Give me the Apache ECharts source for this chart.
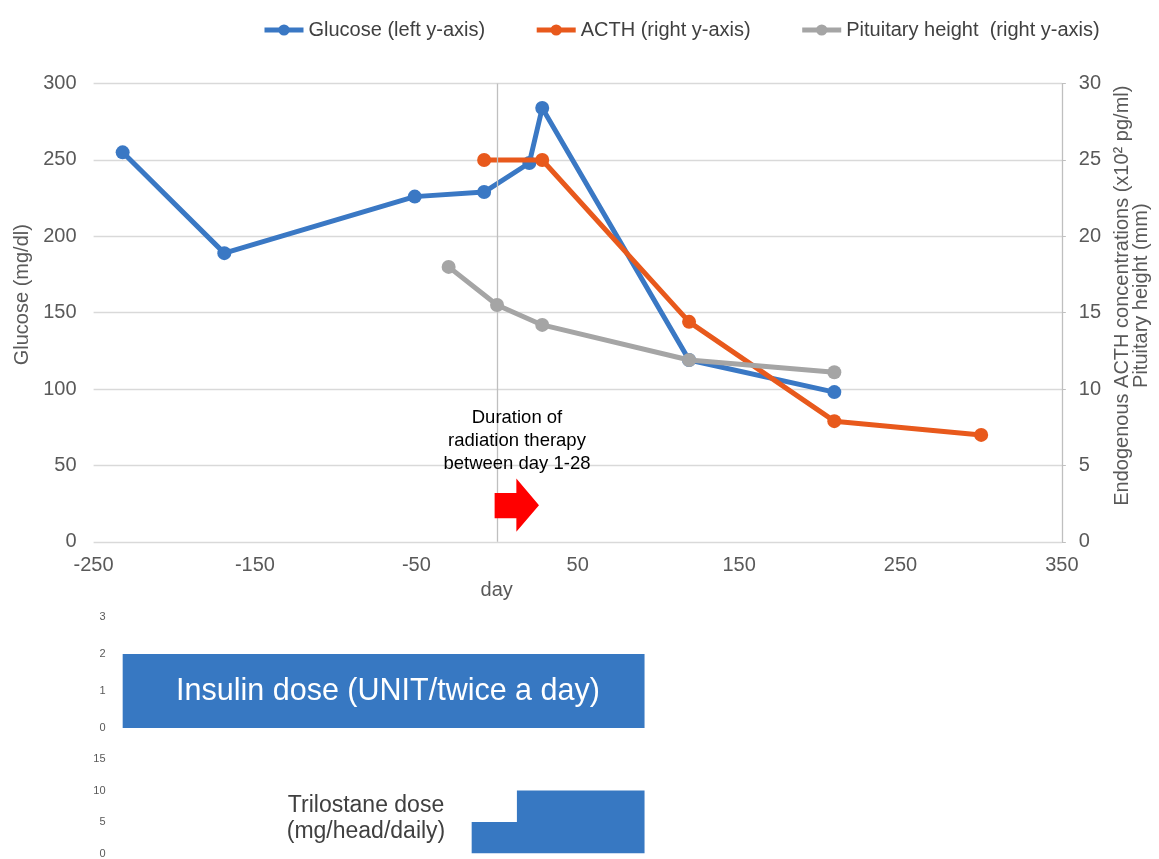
<!DOCTYPE html>
<html>
<head>
<meta charset="utf-8">
<script src="https://cdn.jsdelivr.net/npm/echarts@6/dist/echarts.min.js"></script>
<style>
html,body{margin:0;padding:0;background:#fff;}
#chart{width:1159px;height:859px;}
</style>
</head>
<body>
<div id="chart"></div>
<script>
// ---- data ----
const xTicks = [-250, -150, -50, 50, 150, 250, 350];
const glucoseDays = [-232, -169, -51, -8, 20, 28, 119, 209];
const glucose = [255, 189, 226, 229, 248, 284, 119, 98];
const acthDays = [-8, 28, 119, 209, 300];
const acth = [25, 25, 14.4, 7.9, 7];
const pituitaryDays = [-30, 0, 28, 119, 209];
const pituitary = [18, 15.5, 14.2, 11.9, 11.1];
const insulinDays = [-232, 91];
const insulinDose = [2, 2];
const trilostaneDays = [-16, 12, 91];
const trilostaneDose = [5, 10, 10];
const radiationArrow = [-1.5, 26]; // drawn arrow extent (days)
const seriesNames = ['Glucose (left y-axis)', 'ACTH (right y-axis)', 'Pituitary height  (right y-axis)'];

const zip = (xs, ys) => xs.map((x, i) => [x, ys[i]]);
const FONT = 'Liberation Sans, Arial, sans-serif';
const AXC = '#595959';
const BLUE = '#3A78C4', ORANGE = '#E8591C', GRAY = '#A5A5A5', BAR = '#3778C2';

const chart = echarts.init(document.getElementById('chart'), null, {renderer: 'canvas'});
const xBase = {type: 'value', min: xTicks[0], max: xTicks[xTicks.length - 1], interval: 100};

const option = {
  animation: false,
  textStyle: {fontFamily: FONT},
  legend: {
    data: seriesNames,
    left: 257, top: 15,
    itemWidth: 39, itemHeight: 14, itemGap: 49,
    lineStyle: {width: 5},
    textStyle: {fontSize: 20, color: '#404040', fontFamily: FONT}
  },
  grid: [
    {left: 93.6, right: 96, top: 83.6, height: 458.2},
    {left: 93.6, right: 96, top: 617, height: 111},
    {left: 93.6, right: 96, top: 759, height: 97.5}
  ],
  xAxis: [
    Object.assign({}, xBase, {
      gridIndex: 0,
      name: 'day', nameLocation: 'middle', nameGap: 15,
      nameTextStyle: {fontSize: 20, color: AXC, fontFamily: FONT, padding: [0, 162, 0, 0]},
      axisLine: {show: false}, axisTick: {show: false}, splitLine: {show: false},
      axisLabel: {fontSize: 20, color: AXC, margin: 14, fontFamily: FONT}
    }),
    Object.assign({}, xBase, {gridIndex: 1, show: false}),
    Object.assign({}, xBase, {gridIndex: 2, show: false})
  ],
  yAxis: [
    {
      type: 'value', gridIndex: 0, min: 0, max: 300, interval: 50,
      name: 'Glucose (mg/dl)', nameLocation: 'middle', nameGap: 55, nameRotate: 90,
      nameTextStyle: {fontSize: 20, color: AXC, fontFamily: FONT, padding: [0, 0, 0, 36]},
      axisLine: {show: false}, axisTick: {show: false},
      axisLabel: {fontSize: 20, color: AXC, margin: 17, fontFamily: FONT},
      splitLine: {lineStyle: {color: '#D9D9D9', width: 1.3}}
    },
    {
      type: 'value', gridIndex: 0, position: 'right', min: 0, max: 30, interval: 5,
      name: 'Endogenous ACTH concentrations (x10\u00B2 pg/ml)\nPituitary height (mm)',
      nameLocation: 'middle', nameGap: 50, nameRotate: 90,
      nameTextStyle: {fontSize: 20, lineHeight: 19, color: AXC, fontFamily: FONT, padding: [0, 0, 0, 34]},
      axisLine: {show: true, lineStyle: {color: '#BFBFBF', width: 1.3}},
      axisTick: {show: true, length: 4, lineStyle: {color: '#BFBFBF'}},
      axisLabel: {fontSize: 20, color: AXC, margin: 17, fontFamily: FONT},
      splitLine: {show: false}
    },
    {
      type: 'value', gridIndex: 1, min: 0, max: 3, interval: 1, offset: -14,
      axisLine: {show: false}, axisTick: {show: false}, splitLine: {show: false},
      axisLabel: {fontSize: 11, color: AXC, margin: 2, fontFamily: FONT}
    },
    {
      type: 'value', gridIndex: 2, min: 0, max: 15, interval: 5, offset: -14,
      axisLine: {show: false}, axisTick: {show: false}, splitLine: {show: false},
      axisLabel: {fontSize: 11, color: AXC, margin: 2, fontFamily: FONT}
    }
  ],
  series: [
    {
      name: '_day0', type: 'line', xAxisIndex: 0, yAxisIndex: 0, data: [], z: 1, silent: true,
      markLine: {
        silent: true, symbol: 'none', label: {show: false},
        lineStyle: {color: '#BFBFBF', width: 1.3, type: 'solid'},
        data: [{xAxis: 0}]
      }
    },
    {
      name: seriesNames[0], type: 'line', xAxisIndex: 0, yAxisIndex: 0,
      data: zip(glucoseDays, glucose), z: 3,
      symbol: 'circle', symbolSize: 14,
      lineStyle: {color: BLUE, width: 5}, itemStyle: {color: BLUE}
    },
    {
      name: seriesNames[1], type: 'line', xAxisIndex: 0, yAxisIndex: 1,
      data: zip(acthDays, acth), z: 4,
      symbol: 'circle', symbolSize: 14,
      lineStyle: {color: ORANGE, width: 5}, itemStyle: {color: ORANGE}
    },
    {
      name: seriesNames[2], type: 'line', xAxisIndex: 0, yAxisIndex: 1,
      data: zip(pituitaryDays, pituitary), z: 5,
      symbol: 'circle', symbolSize: 14,
      lineStyle: {color: GRAY, width: 5}, itemStyle: {color: GRAY}
    },
    {
      name: '_arrow', type: 'custom', xAxisIndex: 0, yAxisIndex: 0, z: 6, silent: true,
      data: [radiationArrow],
      encode: {x: [0, 1]},
      renderItem: function (params, api) {
        const a = api.value(0), b = api.value(1);
        const neck = a + 0.49 * (b - a);
        const pts = [[a, 32], [neck, 32], [neck, 41.5], [b, 24], [neck, 6.5], [neck, 15.5], [a, 15.5]]
          .map(p => api.coord(p));
        return {type: 'polygon', shape: {points: pts}, style: {fill: '#FF0000'}};
      }
    },
    {
      name: '_insulin', type: 'line', xAxisIndex: 1, yAxisIndex: 2,
      data: zip(insulinDays, insulinDose), symbol: 'none', silent: true,
      lineStyle: {width: 0}, areaStyle: {color: BAR, opacity: 1}
    },
    {
      name: '_trilostane', type: 'line', step: 'end', xAxisIndex: 2, yAxisIndex: 3,
      data: zip(trilostaneDays, trilostaneDose), symbol: 'none', silent: true,
      lineStyle: {width: 0}, areaStyle: {color: BAR, opacity: 1}
    }
  ],
  graphic: [
    {
      type: 'text', x: 517, y: 441, z: 10, silent: true,
      style: {
        text: 'Duration of\nradiation therapy\nbetween day 1-28',
        fontSize: 18.5, lineHeight: 23, fontFamily: FONT, fill: '#000000',
        align: 'center', verticalAlign: 'middle'
      }
    },
    {
      type: 'text', x: 388, y: 692, z: 10, silent: true,
      style: {
        text: 'Insulin dose (UNIT/twice a day)',
        fontSize: 30.5, fontFamily: FONT, fill: '#FFFFFF',
        align: 'center', verticalAlign: 'middle'
      }
    },
    {
      type: 'text', x: 366, y: 819, z: 10, silent: true,
      style: {
        text: 'Trilostane dose\n(mg/head/daily)',
        fontSize: 23, lineHeight: 26, fontFamily: FONT, fill: '#404040',
        align: 'center', verticalAlign: 'middle'
      }
    }
  ]
};
chart.setOption(option);
</script>
</body>
</html>
